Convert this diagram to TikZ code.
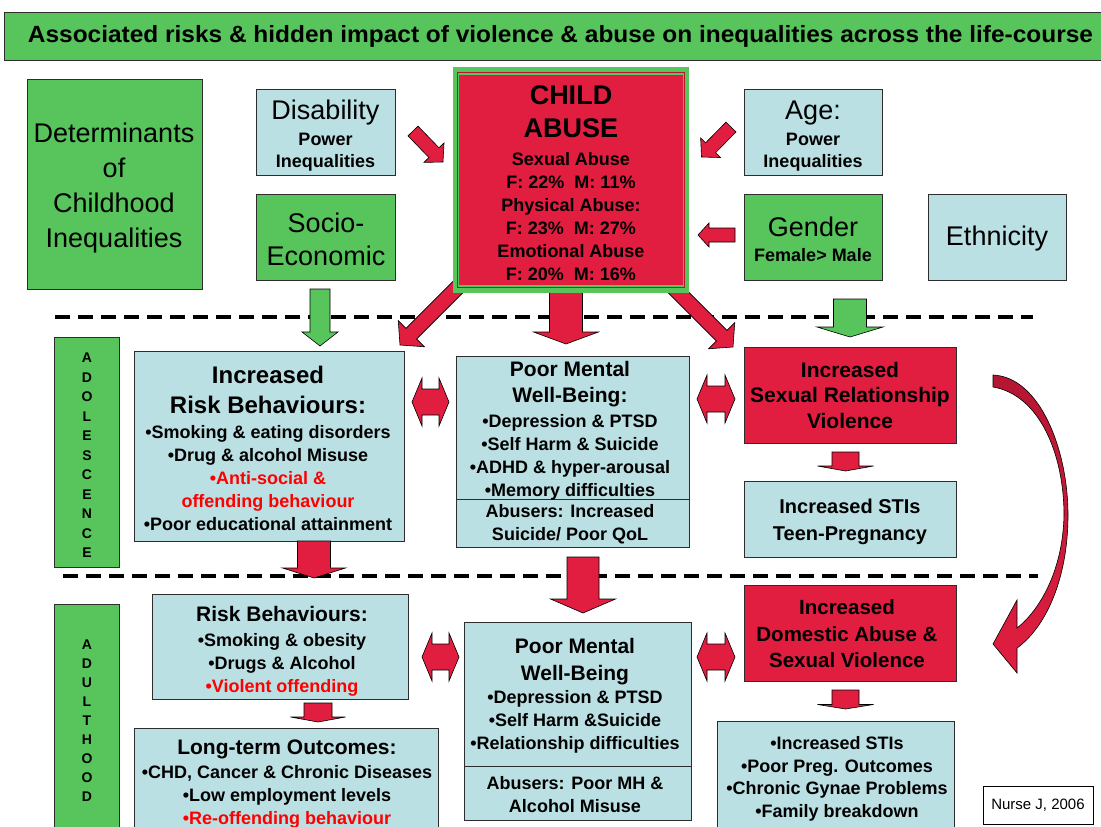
\documentclass[tikz,border=0pt]{standalone}
\usepackage{graphicx}
\usepackage{fontspec}
\setmainfont{Liberation Sans}
\usetikzlibrary{calc}
\definecolor{gfill}{RGB}{88,196,92}
\definecolor{bfill}{RGB}{187,224,228}
\definecolor{rfill}{RGB}{225,30,64}
\definecolor{rdark}{RGB}{180,22,50}
\definecolor{rtext}{RGB}{255,0,0}
\definecolor{edge}{RGB}{45,45,45}
\newcommand\fsz[2]{\fontsize{#1}{#2}\selectfont}
% block arrow: [opts]{tail}{tip}{half shaft}{half head}{head length}
\newcommand\blockarr[6][]{%
  \coordinate (tmpH) at ($(#3)!#6!(#2)$);
  \draw[barrow,#1] ($(#2)!#4!90:(#3)$) -- ($(tmpH)!#4!90:(#3)$) -- ($(tmpH)!#5!90:(#3)$) -- (#3)
    -- ($(tmpH)!#5!-90:(#3)$) -- ($(tmpH)!#4!-90:(#3)$) -- ($(#2)!#4!-90:(#3)$) -- cycle;}
\newcommand\dblarr[6][]{%
  \coordinate (tmpHA) at ($(#2)!#6!(#3)$);
  \coordinate (tmpHB) at ($(#3)!#6!(#2)$);
  \draw[barrow,#1] (#2) -- ($(tmpHA)!#5!90:(#3)$) -- ($(tmpHA)!#4!90:(#3)$) -- ($(tmpHB)!#4!90:(#3)$)
    -- ($(tmpHB)!#5!90:(#3)$) -- (#3) -- ($(tmpHB)!#5!-90:(#3)$) -- ($(tmpHB)!#4!-90:(#3)$)
    -- ($(tmpHA)!#4!-90:(#3)$) -- ($(tmpHA)!#5!-90:(#3)$) -- cycle;}
\begin{document}
\begin{tikzpicture}[x=1pt,y=-1pt,
  box/.style={draw=edge, line width=0.9pt, inner sep=0pt, outer sep=0pt},
  gbox/.style={box, fill=gfill},
  bbox/.style={box, fill=bfill},
  rbox/.style={box, fill=rfill},
  sz/.style 2 args={minimum width=#1, minimum height=#2},
  txt/.style={align=center, inner sep=0pt, text=black},
  barrow/.style={fill=rfill, draw=black, line width=0.6pt, line join=miter},
  garrow/.style={fill=gfill},
  dashline/.style={line width=3.5pt, dash pattern=on 15pt off 8pt}]
\useasboundingbox (0,0) rectangle (1101,827);
\fill[white] (0,0) rectangle (1101,827);

% title
\node[gbox, sz={1113}{48}, font=\bfseries\fsz{23.5}{26}] (title) at (560.5,36)
  {\resizebox{1065pt}{\height}{Associated risks \& hidden impact of violence \& abuse on inequalities across the life-course}};

% dashed separators
\draw[dashline] (55,317) -- (1033,317);
\draw[dashline] (63,576) -- (1038,576);

% diagonal arrows leaving child abuse box (drawn under it)
\coordinate (a-l-t) at (461,284); \coordinate (a-l-h) at (400,345);
\blockarr{a-l-t}{a-l-h}{7.5pt}{18.5pt}{16pt}
\coordinate (a-r-t) at (672,286); \coordinate (a-r-h) at (733,347);
\blockarr{a-r-t}{a-r-h}{7.5pt}{18.5pt}{16pt}
\coordinate (a-c-t) at (566,290); \coordinate (a-c-h) at (566,344);
\blockarr{a-c-t}{a-c-h}{16.5pt}{32.5pt}{12pt}

% top boxes
\node[gbox, sz={175}{210}] (det) at (114.5,184) {};
\node[txt, font=\fsz{27}{34.7}] (det-t) at (114,188) {Determinants\\of\\Childhood\\Inequalities};
\node[bbox, sz={139}{86}] (dis) at (325.5,132) {};
\node[txt, font=\bfseries\fsz{18}{22}] (dis-t) at (325.5,136) {{\mdseries\fsz{27}{22}Disability}\\[4pt]Power\\Inequalities};
\node[gbox, sz={139}{86}] (soc) at (325.5,237) {};
\node[txt, font=\fsz{27}{33}] (soc-t) at (326,239) {Socio-\\Economic};
\node[bbox, sz={138}{86}] (age) at (813,132) {};
\node[txt, font=\bfseries\fsz{18}{22}] (age-t) at (813,136) {{\mdseries\fsz{27}{22}Age:}\\[4pt]Power\\Inequalities};
\node[gbox, sz={138}{86}] (gen) at (813,237) {};
\node[txt, font=\bfseries\fsz{18}{25}] (gen-t) at (813,239) {{\mdseries\fsz{27}{25}Gender}\\Female> Male};
\node[bbox, sz={138}{86}] (eth) at (997,237) {};
\node[txt, font=\fsz{27}{30}] (eth-t) at (997,239) {Ethnicity};

% child abuse
\node[fill=gfill, inner sep=0pt, sz={236}{226}] (childframe) at (571,180) {};
\draw[rdark, line width=1pt] (457.8,72.8) rectangle (684.2,287.2);
\node[fill=rfill, inner sep=0pt, sz={223.5}{210.5}] (child) at (571,180) {};
\node[txt, font=\bfseries\fsz{18}{23}] (child-t) at (571,183)
  {{\fsz{27}{23}CHILD}\\[10pt]{\fsz{27}{23}ABUSE}\\[5pt]Sexual Abuse\\F: 22\%~~M: 11\%\\Physical Abuse:\\F: 23\%~~M: 27\%\\Emotional Abuse\\F: 20\%~~M: 16\%};

% arrows into child box
\coordinate (a-dis-t) at (413,131); \coordinate (a-dis-h) at (443,162);
\blockarr{a-dis-t}{a-dis-h}{7pt}{14pt}{13pt}
\coordinate (a-age-t) at (731,127); \coordinate (a-age-h) at (701.5,157);
\blockarr{a-age-t}{a-age-h}{7pt}{14pt}{13pt}
\coordinate (a-gen-t) at (735,235); \coordinate (a-gen-h) at (698,235);
\blockarr{a-gen-t}{a-gen-h}{7pt}{12pt}{11pt}

% green arrows
\coordinate (a-gl-t) at (320,289); \coordinate (a-gl-h) at (320,346);
\blockarr[garrow]{a-gl-t}{a-gl-h}{10pt}{18pt}{14pt}
\coordinate (a-gr-t) at (850,299); \coordinate (a-gr-h) at (850,337);
\blockarr[garrow]{a-gr-t}{a-gr-h}{16.5pt}{33pt}{10pt}

% adolescence row
\node[gbox, sz={65}{230}] (adol) at (86.5,452) {};
\node[txt, font=\bfseries\fsz{14}{19.5}] (adol-t) at (87,455.5) {A\\D\\O\\L\\E\\S\\C\\E\\N\\C\\E};
\node[bbox, sz={270}{190}] (risk) at (269,446) {};
\node[txt, font=\bfseries\fsz{18}{23}] (risk-t) at (268,448)
  {{\fsz{24}{23}Increased}\\[7pt]{\fsz{24}{23}Risk Behaviours:}\\[2pt]•Smoking \& eating disorders\\•Drug \& alcohol Misuse\\\textcolor{rtext}{•Anti-social \&}\\\textcolor{rtext}{offending behaviour}\\•Poor educational attainment};
\node[bbox, sz={233}{143}] (mentA) at (572.5,427.5) {};
\node[bbox, sz={233}{48}] (mentAb) at (572.5,523) {};
\node[txt, font=\bfseries\fsz{18}{23}] (mentA-t) at (570,431)
  {{\fsz{21}{23}Poor Mental}\\[3pt]{\fsz{21}{23}Well-Being:}\\[2pt]•Depression \& PTSD\\•Self Harm \& Suicide\\•ADHD \& hyper-arousal\\•Memory difficulties};
\node[txt, font=\bfseries\fsz{18}{23}] (mentAb-t) at (570,524.5) {Abusers: Increased\\Suicide/ Poor QoL};
\node[rbox, sz={212}{96}] (sexv) at (850,395) {};
\node[txt, font=\bfseries\fsz{21}{25.5}] (sexv-t) at (850,395) {Increased\\Sexual Relationship\\Violence};
\node[bbox, sz={212}{76}] (sti1) at (850,519) {};
\node[txt, font=\bfseries\fsz{20}{27}] (sti1-t) at (850,521.5) {Increased STIs\\Teen-Pregnancy};

\coordinate (d1-a) at (412,402); \coordinate (d1-b) at (449,402);
\dblarr{d1-a}{d1-b}{13pt}{24pt}{10pt}
\coordinate (d2-a) at (697,399); \coordinate (d2-b) at (735,399);
\dblarr{d2-a}{d2-b}{13pt}{24pt}{10pt}
\coordinate (s1-t) at (845.5,452); \coordinate (s1-h) at (845.5,471);
\blockarr{s1-t}{s1-h}{13.5pt}{28pt}{5pt}

% arrows to adulthood
\coordinate (a-ra-t) at (314,541); \coordinate (a-ra-h) at (314,578);
\blockarr{a-ra-t}{a-ra-h}{16.5pt}{31.5pt}{10pt}
\coordinate (a-ma-t) at (583,557); \coordinate (a-ma-h) at (583,613);
\blockarr{a-ma-t}{a-ma-h}{16pt}{32.5pt}{14pt}

% curved arrow
\path[top color=rdark, bottom color=rfill, draw=black, line width=0.6pt]
  (993,375) .. controls (1040,377) and (1068,450) .. (1068,515)
  .. controls (1068,580) and (1045,628) .. (1017,648) -- (1017,673) -- (993,644) -- (1017,600) -- (1017,628)
  .. controls (1040,610) and (1063,570) .. (1064,515)
  .. controls (1064,455) and (1040,395) .. (993,387) -- cycle;

% adulthood row
\node[gbox, sz={65}{246}] (adult) at (86.5,727) {};
\node[txt, font=\bfseries\fsz{14}{19}] (adult-t) at (87,721) {A\\D\\U\\L\\T\\H\\O\\O\\D};
\node[bbox, sz={256}{105}] (arisk) at (280,646.5) {};
\node[txt, font=\bfseries\fsz{18}{23}] (arisk-t) at (282,651)
  {{\fsz{21}{23}Risk Behaviours:}\\[2pt]•Smoking \& obesity\\•Drugs \& Alcohol\\\textcolor{rtext}{•Violent offending}};
\node[bbox, sz={304}{122}] (ltout) at (286,789) {};
\node[txt, font=\bfseries\fsz{18}{23}] (ltout-t) at (287,784.4)
  {{\fsz{21}{23}Long-term Outcomes:}\\[1pt]•CHD, Cancer \& Chronic Diseases\\•Low employment levels\\\textcolor{rtext}{•Re-offending behaviour}};
\node[bbox, sz={227}{144}] (mentB) at (577.5,694) {};
\node[bbox, sz={227}{54}] (mentBb) at (577.5,793) {};
\node[txt, font=\bfseries\fsz{18}{23}] (mentB-t) at (575,696)
  {{\fsz{21}{23}Poor Mental}\\[4pt]{\fsz{21}{23}Well-Being}\\•Depression \& PTSD\\•Self Harm \&Suicide\\•Relationship difficulties};
\node[txt, font=\bfseries\fsz{18}{23}] (mentBb-t) at (575,795) {Abusers: Poor MH \&\\Alcohol Misuse};
\node[rbox, sz={212}{96}] (dom) at (850,633) {};
\node[txt, font=\bfseries\fsz{20.5}{26.5}] (dom-t) at (847,634) {Increased\\Domestic Abuse \&\\Sexual Violence};
\node[bbox, sz={237}{129}] (sti2) at (835.5,785.5) {};
\node[txt, font=\bfseries\fsz{18}{22.5}] (sti2-t) at (837,779)
  {•Increased STIs\\•Poor Preg. Outcomes\\•Chronic Gynae Problems\\•Family breakdown};
\node[draw=black, line width=0.8pt, fill=white, inner sep=0pt, sz={110}{38}, font=\fsz{15}{18}] (nurse) at (1038,805) {Nurse J, 2006};

\coordinate (d3-a) at (422,657); \coordinate (d3-b) at (459,657);
\dblarr{d3-a}{d3-b}{13pt}{24pt}{10pt}
\coordinate (d4-a) at (697,657); \coordinate (d4-b) at (735,657);
\dblarr{d4-a}{d4-b}{13pt}{24pt}{10pt}
\coordinate (s2-t) at (318,703); \coordinate (s2-h) at (318,722);
\blockarr{s2-t}{s2-h}{14pt}{27.5pt}{5pt}
\coordinate (s3-t) at (845.5,690); \coordinate (s3-h) at (845.5,709);
\blockarr{s3-t}{s3-h}{13.5pt}{28pt}{4.5pt}
\end{tikzpicture}
\end{document}
